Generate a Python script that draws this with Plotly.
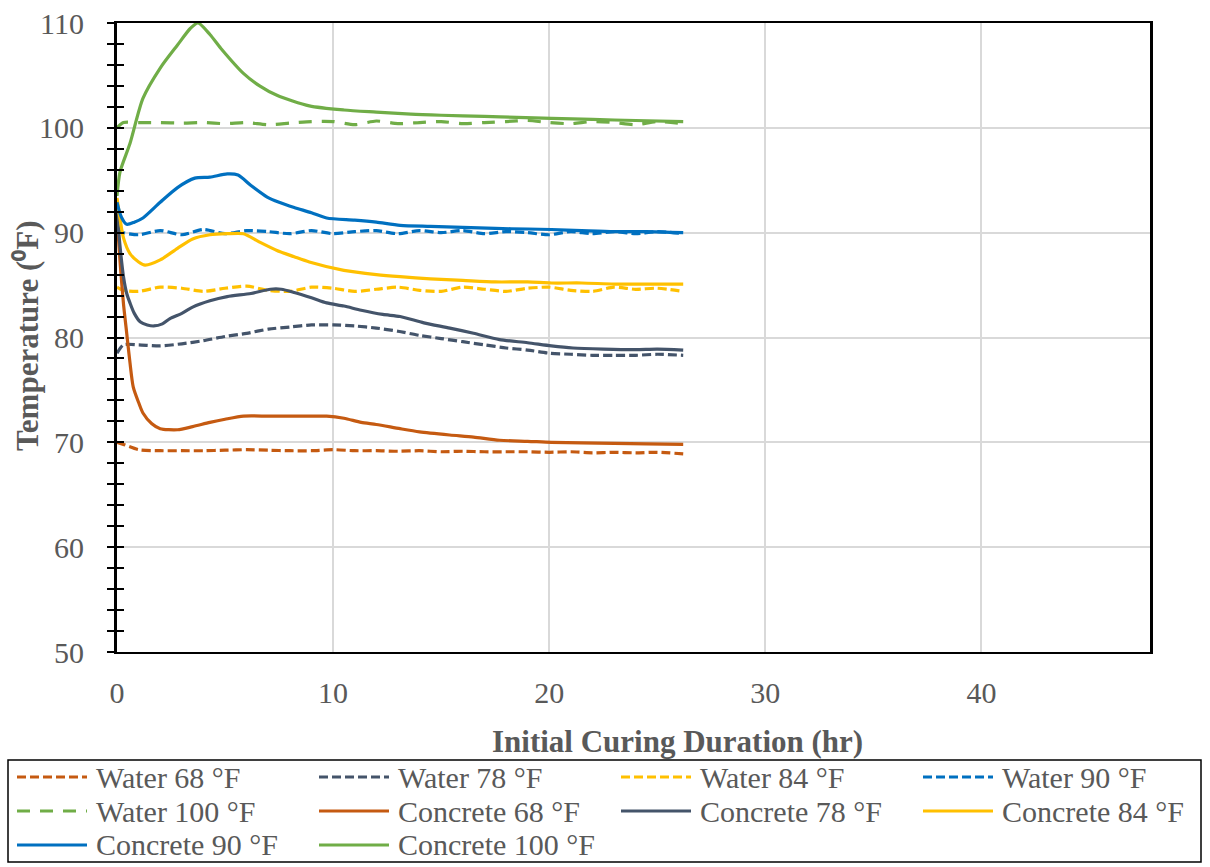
import plotly.graph_objects as go

# ---------------- data ----------------
t_water = [0, 0.3, 1, 2, 3, 4, 5, 6, 7, 8, 9, 10, 11, 12, 13, 14, 15, 16, 17, 18,
           19, 20, 21, 22, 23, 24, 25, 26.2]
water_68 = [70.0, 69.8, 69.3, 69.2, 69.2, 69.2, 69.25, 69.3, 69.25, 69.2, 69.2, 69.3, 69.2, 69.2,
            69.15, 69.2, 69.1, 69.15, 69.1, 69.1, 69.1, 69.05, 69.1, 69.0, 69.05, 69.0, 69.05, 68.9]
water_78 = [78.5, 79.3, 79.3, 79.2, 79.4, 79.7, 80.1, 80.4, 80.8, 81.0, 81.2, 81.2, 81.1, 80.9,
            80.6, 80.2, 79.9, 79.6, 79.3, 79.0, 78.8, 78.5, 78.4, 78.3, 78.3, 78.3, 78.4, 78.3]
water_84 = [84.8, 84.5, 84.4, 84.8, 84.7, 84.4, 84.7, 84.9, 84.5, 84.4, 84.8, 84.7, 84.4, 84.6,
            84.8, 84.5, 84.4, 84.8, 84.6, 84.4, 84.7, 84.8, 84.5, 84.4, 84.8, 84.6, 84.7, 84.4]
water_90 = [90.3, 90.0, 89.8, 90.2, 89.8, 90.3, 89.9, 90.2, 90.1, 89.9, 90.2, 89.9, 90.1, 90.2,
            89.9, 90.2, 90.0, 90.2, 89.9, 90.1, 90.0, 89.8, 90.1, 89.9, 90.1, 89.9, 90.1, 89.9]
water_100 = [100.0, 100.5, 100.5, 100.5, 100.45, 100.5, 100.4, 100.5, 100.3, 100.45, 100.6, 100.6,
             100.3, 100.65, 100.4, 100.5, 100.6, 100.4, 100.5, 100.6, 100.7, 100.5, 100.4, 100.6,
             100.5, 100.3, 100.6, 100.4]

t_c68 = [0, 0.15, 0.3, 0.45, 0.6, 0.75, 1.0, 1.2, 1.6, 2.0, 2.8, 3.5, 4.3, 5.0, 5.85, 7.0, 8.0,
         9.0, 9.7, 10.5, 11.3, 12.0, 13.1, 14.0, 15.4, 16.5, 17.7, 19.0, 20.1, 21.5, 23.0, 24.5, 26.2]
concrete_68 = [91.5, 87.0, 83.2, 80.4, 77.6, 75.3, 73.8, 72.8, 71.8, 71.3, 71.2, 71.5, 71.9, 72.2,
               72.5, 72.5, 72.5, 72.5, 72.5, 72.3, 71.9, 71.7, 71.3, 71.0, 70.7, 70.5, 70.2, 70.1,
               70.0, 69.95, 69.9, 69.85, 69.8]

t_c78 = [0, 0.15, 0.3, 0.45, 0.6, 0.8, 1.07, 1.4, 1.7, 2.1, 2.45, 3.0, 3.5, 4.3, 5.1, 6.2, 7.1,
         7.6, 8.2, 9.0, 9.7, 10.5, 11.3, 12.3, 13.1, 14.2, 15.4, 16.5, 17.7, 19.0, 20.1, 21.1,
         22.5, 24.0, 25.0, 26.2]
concrete_78 = [92.0, 88.5, 85.8, 84.2, 83.3, 82.3, 81.5, 81.2, 81.1, 81.3, 81.8, 82.3, 82.9, 83.5,
               83.9, 84.2, 84.6, 84.6, 84.3, 83.8, 83.3, 83.0, 82.6, 82.2, 82.0, 81.4, 80.9, 80.4,
               79.8, 79.5, 79.2, 79.0, 78.9, 78.85, 78.9, 78.8]

t_c84 = [0, 0.15, 0.3, 0.6, 1.0, 1.3, 2.0, 2.8, 3.5, 4.3, 5.1, 5.85, 6.6, 7.4, 8.2, 8.9, 10.5,
         12.0, 13.1, 14.5, 16.0, 17.5, 19.0, 20.1, 21.5, 23.0, 24.5, 26.2]
concrete_84 = [93.3, 91.2, 89.5, 88.0, 87.2, 86.9, 87.4, 88.5, 89.4, 89.8, 89.9, 89.9, 89.1, 88.3,
               87.7, 87.2, 86.4, 86.0, 85.8, 85.6, 85.45, 85.3, 85.3, 85.2, 85.2, 85.1, 85.1, 85.1]

t_c90 = [0, 0.2, 0.45, 0.8, 1.2, 2.0, 2.8, 3.6, 4.3, 5.1, 5.6, 6.2, 6.95, 7.5, 8.2, 9.0, 9.7,
         11.0, 12.0, 13.1, 14.5, 16.0, 17.5, 19.0, 20.1, 21.5, 23.0, 24.5, 26.2]
concrete_90 = [92.9, 91.5, 90.8, 91.0, 91.4, 92.9, 94.3, 95.2, 95.3, 95.6, 95.5, 94.5, 93.4, 92.9,
               92.4, 91.9, 91.4, 91.2, 91.0, 90.7, 90.6, 90.5, 90.4, 90.35, 90.3, 90.2, 90.1,
               90.1, 90.0]

t_c100 = [0, 0.14, 0.6, 1.2, 2.0, 2.8, 3.4, 3.75, 4.3, 4.8, 5.85, 6.6, 7.4, 8.9, 10.5, 12.0,
          13.6, 15.0, 17.0, 18.5, 20.1, 22.0, 24.0, 26.2]
concrete_100 = [93.5, 95.8, 98.5, 102.8, 105.7, 107.9, 109.5, 110.0, 108.9, 107.6, 105.2, 104.0,
                103.1, 102.1, 101.7, 101.5, 101.3, 101.2, 101.1, 101.0, 100.9, 100.8, 100.7, 100.6]

series_names = ["Water 68 °F", "Water 78 °F", "Water 84 °F", "Water 90 °F", "Water 100 °F",
                "Concrete 68 °F", "Concrete 78 °F", "Concrete 84 °F", "Concrete 90 °F",
                "Concrete 100 °F"]
x_ticks = [0, 10, 20, 30, 40]
y_ticks = [50, 60, 70, 80, 90, 100, 110]

# ---------------- styling ----------------
ORANGE, SLATE, YELLOW, BLUE, GREEN = "#C55A11", "#44546A", "#FFC000", "#0070C0", "#70AD47"
SHORT = "9px,4px"
LONG = "13px,10px"
series = [
    (t_water, water_68, ORANGE, SHORT),
    (t_water, water_78, SLATE, SHORT),
    (t_water, water_84, YELLOW, SHORT),
    (t_water, water_90, BLUE, SHORT),
    (t_water, water_100, GREEN, LONG),
    (t_c68, concrete_68, ORANGE, "solid"),
    (t_c78, concrete_78, SLATE, "solid"),
    (t_c84, concrete_84, YELLOW, "solid"),
    (t_c90, concrete_90, BLUE, "solid"),
    (t_c100, concrete_100, GREEN, "solid"),
]

FONT = "Liberation Serif, Times New Roman, serif"
GRAY = "#595959"

fig = go.Figure()
for i, (name, (tx, ty, col, dash)) in enumerate(zip(series_names, series)):
    fig.add_trace(go.Scatter(
        x=tx, y=ty, mode="lines", name=name, showlegend=False,
        yaxis="y2" if i == 0 else "y",
        line=dict(color=col, width=3.2, dash=dash, shape="spline", smoothing=0.7)))

W, H = 1210, 867
L, R, T, B = 117, 60, 23, 215
PW, PH = W - L - R, H - T - B


def px(xp):
    return (xp - L) / PW


def py(yp):
    return (H - B - yp) / PH


fig.update_layout(
    width=W, height=H,
    margin=dict(l=L, r=R, t=T, b=B, autoexpand=False),
    paper_bgcolor="white", plot_bgcolor="white",
    font=dict(family=FONT, color=GRAY),
    xaxis=dict(range=[0, 47.8], tickvals=x_ticks, ticks="", showgrid=True,
               gridcolor="#D9D9D9", gridwidth=2, zeroline=False, showline=True,
               linecolor="black", linewidth=2, mirror=True,
               tickfont=dict(size=30, family=FONT, color=GRAY), ticklabelstandoff=13),
    yaxis=dict(range=[50, 110], tickmode="linear", tick0=50, dtick=10, ticks="outside",
               ticklen=7, tickwidth=2, tickcolor="black", showgrid=True, gridcolor="#D9D9D9",
               gridwidth=2, zeroline=False, showline=True, linecolor="black", linewidth=3,
               mirror=True, tickfont=dict(size=30, family=FONT, color=GRAY),
               ticklabelstandoff=17,
               minor=dict(tickmode="linear", tick0=50, dtick=2, ticks="outside", ticklen=7,
                          tickwidth=2, tickcolor="black", showgrid=False)),
    yaxis2=dict(range=[50, 110], overlaying="y", side="left", anchor="x", tickmode="linear",
                tick0=50, dtick=2, ticks="inside", ticklen=7, tickwidth=2, tickcolor="black",
                showticklabels=False, showgrid=False, zeroline=False, showline=False),
)

annotations = [
    dict(text="<b>Initial Curing Duration (hr)</b>", x=px(677), y=py(741), xref="paper",
         yref="paper", showarrow=False, xanchor="center", yanchor="middle",
         font=dict(size=31, family=FONT, color=GRAY)),
    dict(text="<b>Temperature (⁰F)</b>", x=px(27), y=py(336), xref="paper", yref="paper",
         showarrow=False, xanchor="center", yanchor="middle", textangle=-90,
         font=dict(size=31, family=FONT, color=GRAY)),
]
shapes = [dict(type="rect", xref="paper", yref="paper", x0=px(8), x1=px(1201),
               y0=py(760), y1=py(862), line=dict(color="black", width=1.5),
               fillcolor="rgba(0,0,0,0)")]

col_line_x = [17, 319, 621, 923]
line_len = 70
row_y = [777, 811, 845]
for i, (name, (tx, ty, col, dash)) in enumerate(zip(series_names, series)):
    r, c = divmod(i, 4)
    x0 = col_line_x[c]
    yy = row_y[r]
    shapes.append(dict(type="line", xref="paper", yref="paper", x0=px(x0), x1=px(x0 + line_len),
                       y0=py(yy), y1=py(yy), line=dict(color=col, width=3.2, dash=dash)))
    annotations.append(dict(text=name, x=px(x0 + line_len + 7), y=py(yy), xref="paper",
                            yref="paper", showarrow=False, xanchor="left", yanchor="middle",
                            font=dict(size=30, family=FONT, color=GRAY)))

fig.update_layout(annotations=annotations, shapes=shapes)
fig.write_html("out.html")
